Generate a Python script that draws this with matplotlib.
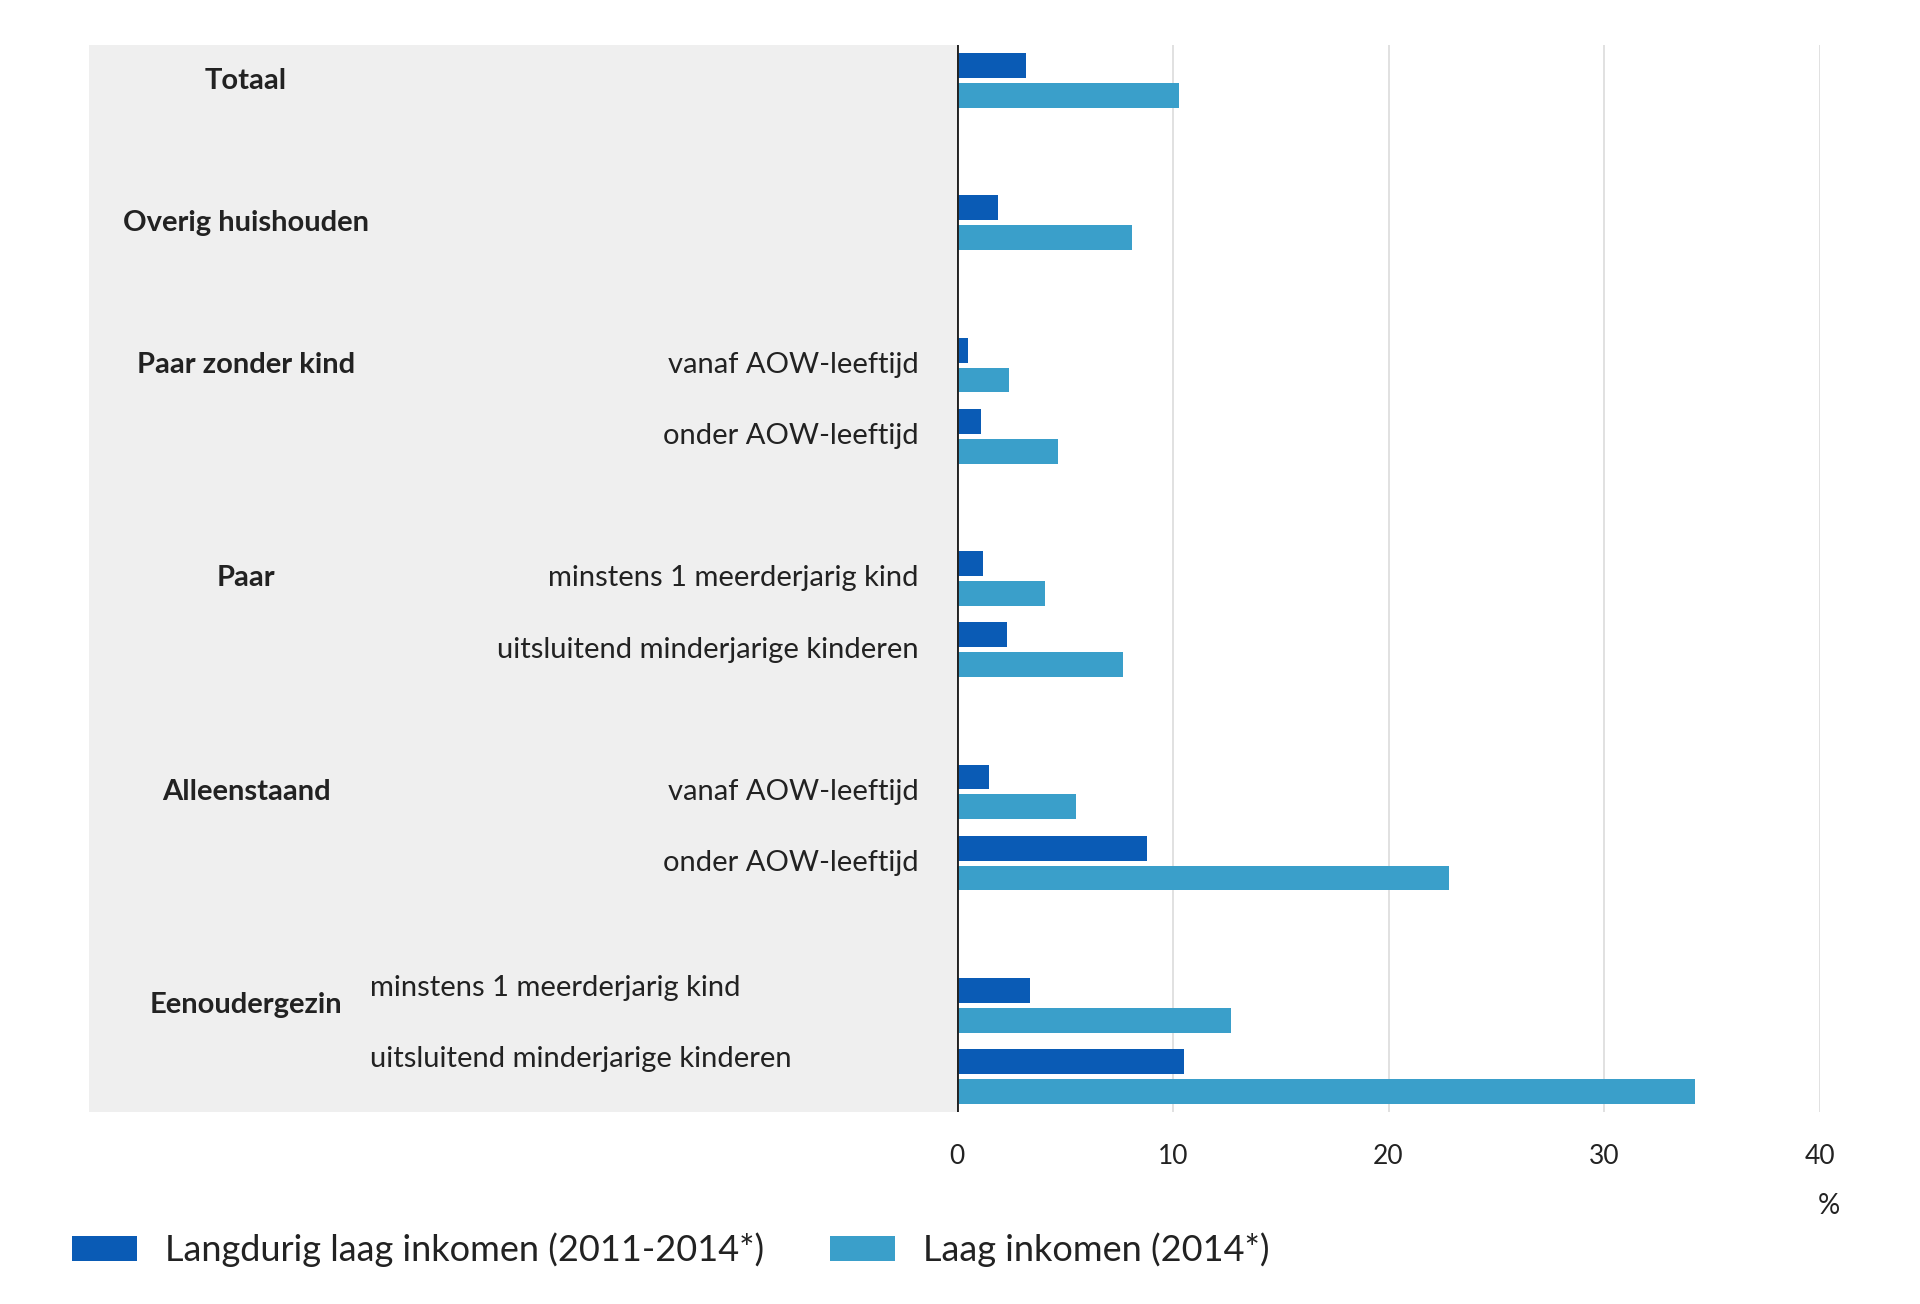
import matplotlib
matplotlib.use("Agg")
import matplotlib.pyplot as plt
from matplotlib.patches import Rectangle, Patch
from matplotlib.transforms import blended_transform_factory

plt.rcParams['font.family'] = ['Lato', 'DejaVu Sans']

# ---- data ----
groups = ["Totaal", "Overig huishouden", "Paar zonder kind", "Paar",
          "Alleenstaand", "Eenoudergezin"]
subcats = [[""], [""],
           ["vanaf AOW-leeftijd", "onder AOW-leeftijd"],
           ["minstens 1 meerderjarig kind", "uitsluitend minderjarige kinderen"],
           ["vanaf AOW-leeftijd", "onder AOW-leeftijd"],
           ["minstens 1 meerderjarig kind", "uitsluitend minderjarige kinderen"]]
long_low = [3.2, 1.9, 0.5, 1.1, 1.2, 2.3, 1.5, 8.8, 3.4, 10.5]
low = [10.3, 8.1, 2.4, 4.7, 4.1, 7.7, 5.5, 22.8, 12.7, 34.2]
series_names = ["Langdurig laag inkomen (2011-2014*)", "Laag inkomen (2014*)"]
xticks = [0, 10, 20, 30, 40]

dark = "#0a5bb5"
light = "#3a9fca"
txt = "#222222"

W, H = 1920, 1304
fig = plt.figure(figsize=(W / 100, H / 100), dpi=100)
fig.patch.set_facecolor("white")

ax_left, ax_right = 957 / W, 1820 / W
ax_top, ax_bot = 1 - 45 / H, 1 - 1112 / H
ax = fig.add_axes([ax_left, ax_bot, ax_right - ax_left, ax_top - ax_bot])

# gray label panel
fig.add_artist(Rectangle((89 / W, ax_bot), ax_left - 89 / W, ax_top - ax_bot,
                         transform=fig.transFigure, facecolor="#efefef",
                         edgecolor="none", zorder=0))

# positions (layout)
pos = []
group_first = []
p = 0
for g, subs in zip(groups, subcats):
    group_first.append(p)
    for s in subs:
        pos.append(p)
        p += 1
    p += 1

h = 0.35
off = 0.21
ax.barh([q - off for q in pos], long_low, height=h, color=dark, zorder=3)
ax.barh([q + off for q in pos], low, height=h, color=light, zorder=3)

ax.set_ylim(14.5, -0.5)
ax.set_xlim(0, 40)
ax.set_xticks(xticks)
ax.set_xticklabels([str(t) for t in xticks], fontsize=19, color=txt)
ax.tick_params(axis="x", length=0, pad=23)
ax.set_yticks([])
for sp in ax.spines.values():
    sp.set_visible(False)
ax.set_facecolor("none")
for t in xticks[1:]:
    ax.axvline(t, color="#dedede", lw=1.3, zorder=1)
ax.axvline(0, color="#222222", lw=2.8, zorder=4)

tr = blended_transform_factory(fig.transFigure, ax.transData)
k = 0
for gi, (g, subs) in enumerate(zip(groups, subcats)):
    ax.text(246 / W, group_first[gi], g, transform=tr, ha="center", va="center",
            fontsize=21, fontweight="bold", color=txt)
    for si, s in enumerate(subs):
        if s:
            if g == "Eenoudergezin":
                ax.text(370 / W, pos[k] - 0.24, s, transform=tr, ha="left",
                        va="center", fontsize=21, color=txt)
            else:
                ax.text(919 / W, pos[k], s, transform=tr, ha="right",
                        va="center", fontsize=21, color=txt)
        k += 1

fig.text(1829 / W, 1 - 1206 / H, "%", ha="center", va="center",
         fontsize=20, color=txt)

handles = [Patch(facecolor=dark, edgecolor="none"),
           Patch(facecolor=light, edgecolor="none")]
fig.legend(handles, series_names, loc="center left",
           bbox_to_anchor=(39 / W, 1 - 1250 / H), ncol=2, frameon=False,
           fontsize=26, handlelength=1.8, handleheight=0.7,
           handletextpad=0.8, columnspacing=1.8, labelcolor=txt)

fig.savefig("out.png", dpi=100, facecolor="white")
